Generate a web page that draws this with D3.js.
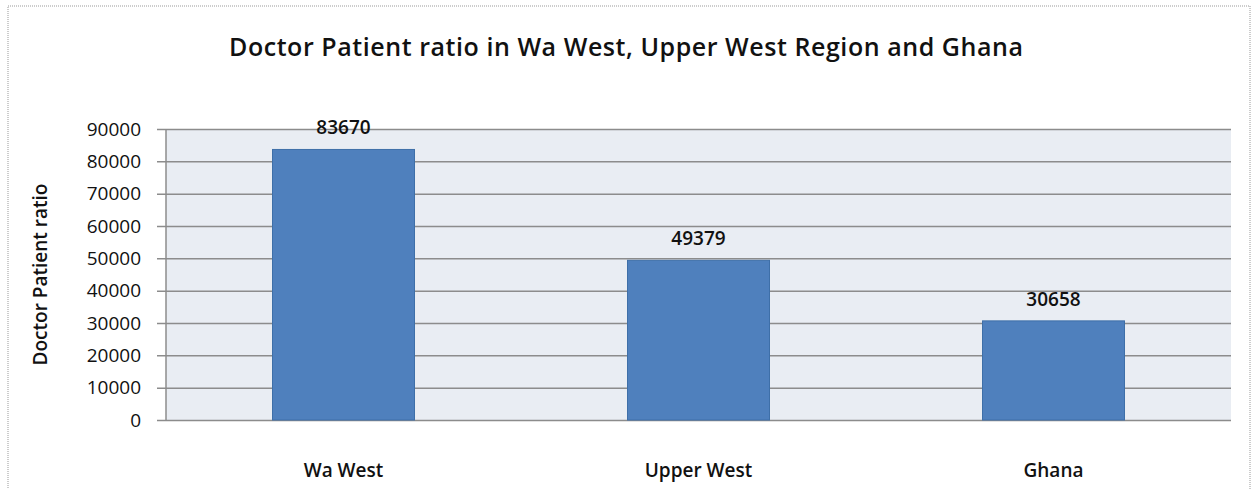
<!DOCTYPE html>
<html lang="en">
<head>
    <meta charset="UTF-8">
    <title>Doctor Patient ratio</title>
    <script src="https://d3js.org/d3.v7.min.js"></script>
    <style>
        body { margin: 0; background: #fff; }
        text { font-family: "Open Sans", "Liberation Sans", sans-serif; fill: #111; }
    </style>
</head>
<body>
    <svg width="1252" height="489"></svg>
    <script>
        const regions = ['Wa West', 'Upper West', 'Ghana'];
        const ratios = [83670, 49379, 30658];
        const yTicks = [0, 10000, 20000, 30000, 40000, 50000, 60000, 70000, 80000, 90000];

        const svg = d3.select('svg');
        const [plotL, plotR, plotT, plotB] = [166, 1231, 129, 420];

        // outer dotted frame
        svg.append('rect')
            .attr('x', 8).attr('y', 6)
            .attr('width', 1242).attr('height', 490)
            .attr('fill', 'none')
            .attr('stroke', '#999')
            .attr('stroke-dasharray', '1,1');

        const xScale = d3.scaleBand()
            .domain(regions)
            .range([plotL, plotR])
            .paddingInner(0.6)
            .paddingOuter(0.3);

        const yScale = d3.scaleLinear()
            .domain([0, 90000])
            .range([plotB, plotT]);

        svg.append('rect')
            .attr('x', plotL).attr('y', plotT)
            .attr('width', plotR - plotL).attr('height', plotB - plotT)
            .attr('fill', '#e9edf3');

        const yAxis = d3.axisLeft(yScale)
            .tickValues(yTicks)
            .tickSize(plotR - plotL + 9)
            .tickPadding(16)
            .tickFormat(d3.format('d'));

        const gy = svg.append('g')
            .attr('transform', `translate(${plotR},0)`)
            .call(yAxis);
        gy.select('.domain').remove();
        gy.selectAll('.tick line').attr('stroke', '#8c8c8c').attr('stroke-width', 1.5);
        gy.selectAll('.tick text')
            .style('font-size', '19px')
            .attr('fill', '#111');

        // left axis line
        svg.append('line')
            .attr('x1', plotL).attr('x2', plotL)
            .attr('y1', plotT).attr('y2', plotB)
            .attr('stroke', '#8c8c8c').attr('stroke-width', 1.5);

        svg.selectAll('.bar')
            .data(ratios)
            .join('rect')
            .attr('class', 'bar')
            .attr('x', (d, i) => xScale(regions[i]))
            .attr('y', d => yScale(d))
            .attr('width', xScale.bandwidth())
            .attr('height', d => plotB - yScale(d))
            .attr('fill', '#4f80bd')
            .attr('stroke', '#3e6fa8')
            .attr('stroke-width', 1);

        svg.selectAll('.val')
            .data(ratios)
            .join('text')
            .attr('class', 'val')
            .attr('x', (d, i) => xScale(regions[i]) + xScale.bandwidth() / 2)
            .attr('y', d => yScale(d) - 15)
            .attr('text-anchor', 'middle')
            .style('font-size', '19px')
            .style('font-weight', '600')
            .text(d => d);

        svg.selectAll('.cat')
            .data(regions)
            .join('text')
            .attr('class', 'cat')
            .attr('x', d => xScale(d) + xScale.bandwidth() / 2)
            .attr('y', 477)
            .attr('text-anchor', 'middle')
            .style('font-size', '19px')
            .style('font-weight', '600')
            .text(d => d);

        svg.append('text')
            .attr('transform', `translate(47,${(plotT + plotB) / 2}) rotate(-90)`)
            .attr('text-anchor', 'middle')
            .style('font-size', '19px')
            .style('font-weight', '600')
            .text('Doctor Patient ratio');

        svg.append('text')
            .attr('x', 626)
            .attr('y', 56)
            .attr('text-anchor', 'middle')
            .attr('textLength', 794)
            .style('font-size', '25px')
            .style('font-weight', '600')
            .text('Doctor Patient ratio in Wa West, Upper West Region and Ghana');
    </script>
</body>
</html>
